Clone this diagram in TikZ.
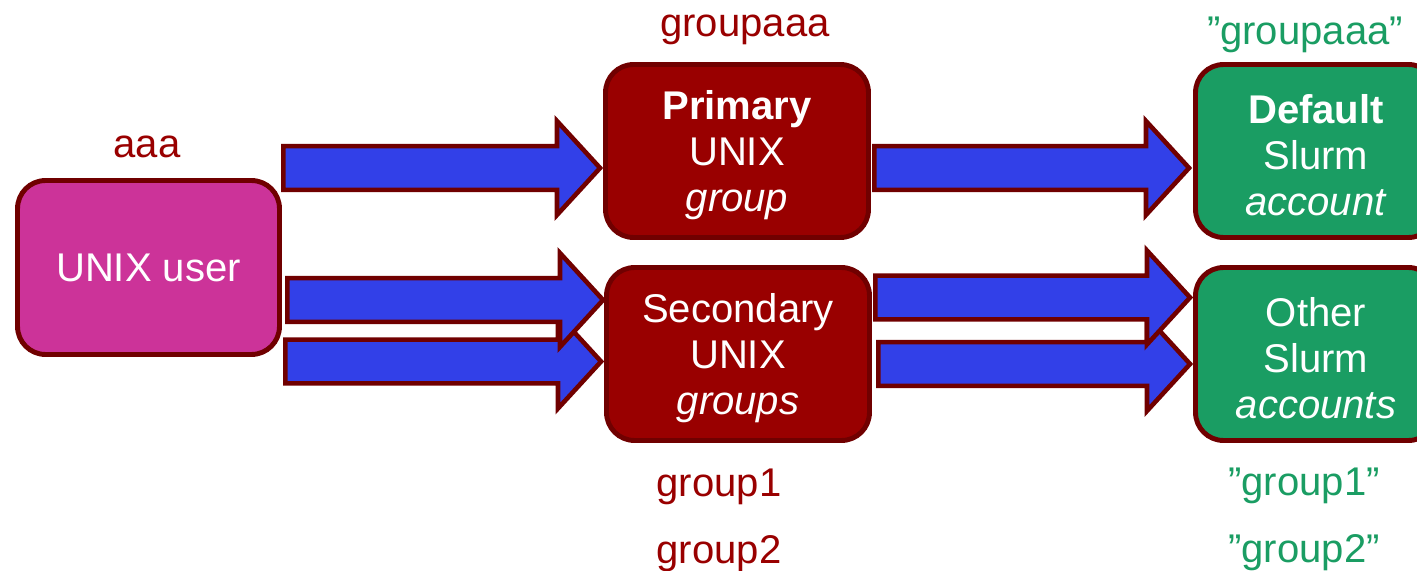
\documentclass[tikz,border=0pt]{standalone}
\usepackage{fontspec}
\setmainfont{Liberation Sans}
\usetikzlibrary{calc}
\definecolor{boxborder}{HTML}{700000}
\definecolor{userfill}{HTML}{CC3399}
\definecolor{groupfill}{HTML}{990000}
\definecolor{acctfill}{HTML}{1A9D63}
\definecolor{arrowfill}{HTML}{3240E8}
\definecolor{redtext}{HTML}{990000}
\definecolor{greentext}{HTML}{1A9D63}
\newlength\BAbody \setlength\BAbody{12.5pt}
\newlength\BAhead \setlength\BAhead{26.7pt}
\newlength\BAlen  \setlength\BAlen{24.5pt}
\newcommand\blockarrow[2]{%
  \draw[blockarrow] let \p1=#1, \p2=#2 in
    (\x1,\y2+\BAbody) -- (\x2-\BAlen,\y2+\BAbody) -- (\x2-\BAlen,\y2+\BAhead)
    -- (\x2,\y2) -- (\x2-\BAlen,\y2-\BAhead) -- (\x2-\BAlen,\y2-\BAbody)
    -- (\x1,\y2-\BAbody) -- cycle;}
\newcommand\toppad{\rule{0pt}{20.8pt}}
\tikzset{
  txt/.style={font=\fontsize{22.8pt}{26.2pt}\selectfont},
  box/.style={txt, draw=boxborder, line width=2.8pt, rounded corners=0.56cm,
    text=white, align=center, inner sep=0pt},
  userbox/.style={box, fill=userfill, minimum width=5.24cm, minimum height=3.48cm},
  groupbox/.style={box, fill=groupfill, minimum width=5.26cm, minimum height=3.46cm},
  acctbox/.style={box, fill=acctfill, minimum width=4.82cm, minimum height=3.46cm},
  blockarrow/.style={draw=boxborder, fill=arrowfill, line width=2.6pt, miter limit=10},
  redlabel/.style={txt, text=redtext, anchor=base, inner sep=0pt},
  greenlabel/.style={txt, text=greentext, anchor=base, inner sep=0pt},
}
\begin{document}
\begin{tikzpicture}[x=0.02cm, y=-0.02cm]
\clip (0,0) rectangle (1417,571);
\node[userbox]  (user)      at (148.5,267.5) {UNIX user};
\node[groupbox] (primary)   at (737,151) {\toppad\textbf{Primary}\\UNIX\\\textit{group}};
\node[groupbox] (secondary) at (738,354) {\toppad Secondary\\UNIX\\\textit{groups}};
\node[acctbox]  (default)   at (1316,151) {\toppad\textbf{Default}\\Slurm\\\textit{account}};
\node[acctbox]  (other)     at (1316,354) {\toppad Other\\Slurm\\\textit{accounts}};

\blockarrow{($(user.east)+(1.5,0)$)}{($(primary.west)+(-3,17)$)}
\blockarrow{($(user.east)+(3.5,0)$)}{($(secondary.west)+(-3,7.5)$)}
\blockarrow{($(user.east)+(5.5,0)$)}{($(secondary.west)+(-1,-54)$)}
\blockarrow{($(primary.east)+(3.5,0)$)}{($(default.west)+(-4,17)$)}
\blockarrow{($(secondary.east)+(6.5,0)$)}{($(other.west)+(-3,10)$)}
\blockarrow{($(secondary.east)+(3.5,0)$)}{($(other.west)+(-3,-56.5)$)}

\node[redlabel] (luser)   at (147,157) {aaa};
\node[redlabel] (lprim)   at (745,37)  {groupaaa};
\node[redlabel] (lsec1)   at (719,496) {group1};
\node[redlabel] (lsec2)   at (719,563) {group2};
\node[greenlabel] (ldef)  at (1305,45)  {”groupaaa”};
\node[greenlabel] (loth1) at (1304,495) {”group1”};
\node[greenlabel] (loth2) at (1304,562) {”group2”};
\end{tikzpicture}
\end{document}
